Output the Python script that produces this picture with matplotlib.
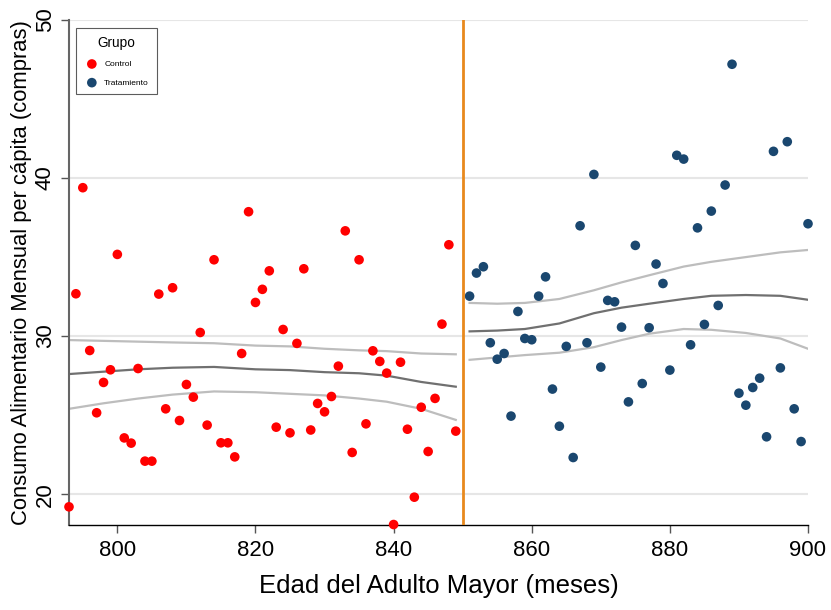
import matplotlib
matplotlib.use("Agg")
import matplotlib.pyplot as plt
import numpy as np

plt.rcParams['font.family'] = ['Liberation Sans', 'DejaVu Sans']

# Control group (age in months, consumption)
ctrl_x = list(range(793, 850))
ctrl_y = [19.2, 32.68, 39.39, 29.09, 25.15, 27.07, 27.87, 35.17, 23.56, 23.23,
          27.95, 22.09, 22.09, 32.66, 25.4, 33.06, 24.66, 26.94, 26.14, 30.23,
          24.37, 34.83, 23.25, 23.25, 22.36, 28.9, 37.87, 32.13, 32.96, 34.13,
          24.24, 30.42, 23.88, 29.54, 34.26, 24.06, 25.74, 25.21, 26.18, 28.1,
          36.66, 22.64, 34.83, 24.45, 29.07, 28.4, 27.66, 18.08, 28.35, 24.11,
          19.81, 25.5, 22.7, 26.06, 30.76, 35.78, 23.99]

# Treatment group
trt_x = list(range(851, 901))
trt_y = [32.53, 33.99, 34.39, 29.58, 28.54, 28.9, 24.94, 31.56, 29.85, 29.77,
         32.53, 33.75, 26.65, 24.3, 29.35, 22.32, 36.98, 29.58, 40.23, 28.04,
         32.26, 32.17, 30.57, 25.84, 35.74, 27.0, 30.53, 34.56, 33.33, 27.85,
         41.44, 41.2, 29.45, 36.85, 30.74, 37.91, 31.94, 39.56, 47.2, 26.39,
         25.63, 26.75, 27.34, 23.63, 41.69, 27.99, 42.3, 25.4, 23.33, 37.11]

# Smoothed fits with confidence bands
fit_c_x = [793, 798, 803, 808, 814, 820, 825, 830, 835, 839, 844, 849]
fit_c_mid = [27.6, 27.75, 27.9, 28.0, 28.05, 27.9, 27.85, 27.72, 27.65, 27.5, 27.1, 26.8]
fit_c_up = [29.75, 29.7, 29.65, 29.6, 29.55, 29.4, 29.35, 29.2, 29.1, 29.05, 28.9, 28.85]
fit_c_lo = [25.4, 25.75, 26.05, 26.3, 26.5, 26.45, 26.35, 26.25, 26.05, 25.85, 25.4, 24.7]

fit_t_x = [851, 855, 859, 864, 869, 873, 877, 882, 886, 891, 896, 900]
fit_t_mid = [30.3, 30.35, 30.45, 30.8, 31.45, 31.8, 32.05, 32.35, 32.55, 32.6, 32.55, 32.3]
fit_t_up = [32.1, 32.05, 32.1, 32.35, 32.9, 33.4, 33.85, 34.4, 34.7, 35.0, 35.3, 35.45]
fit_t_lo = [28.5, 28.65, 28.8, 28.95, 29.3, 29.75, 30.15, 30.45, 30.4, 30.2, 29.85, 29.2]

cutoff = 850

fig = plt.figure(figsize=(8.31, 6.10), dpi=100)
ax = fig.add_axes([69/831, 1-525/610, (808-69)/831, (525-20)/610])

for yv in [20, 30, 40, 50]:
    ax.axhline(yv, color='#e6e6e6', lw=1.5, zorder=0)

ax.plot(fit_c_x, fit_c_up, color='#bdbdbd', lw=1.6, zorder=2)
ax.plot(fit_c_x, fit_c_lo, color='#bdbdbd', lw=1.6, zorder=2)
ax.plot(fit_c_x, fit_c_mid, color='#707070', lw=1.6, zorder=2)
ax.plot(fit_t_x, fit_t_up, color='#bdbdbd', lw=1.6, zorder=2)
ax.plot(fit_t_x, fit_t_lo, color='#bdbdbd', lw=1.6, zorder=2)
ax.plot(fit_t_x, fit_t_mid, color='#707070', lw=1.6, zorder=2)

ax.scatter(ctrl_x, ctrl_y, s=48, color='#ff0000', edgecolors='none', zorder=3, label='Control', clip_on=False)
ax.scatter(trt_x, trt_y, s=48, color='#1a476f', edgecolors='none', zorder=3, label='Tratamiento', clip_on=False)

ax.axvline(cutoff, color='#e8891d', lw=2, zorder=4)

ax.set_xlim(793, 900)
ax.set_ylim(18.05, 50)
ax.set_xticks([800, 820, 840, 860, 880, 900])
ax.set_yticks([20, 30, 40, 50])
ax.tick_params(axis='both', direction='out', length=6, width=1, color='#555555', labelsize=16)
ax.tick_params(axis='x', pad=5)
for lbl in ax.get_yticklabels():
    lbl.set_rotation(90)
    lbl.set_va('center')
ax.spines['top'].set_visible(False)
ax.spines['right'].set_visible(False)
ax.spines['left'].set_color('#666666')
ax.spines['left'].set_linewidth(1.5)
ax.spines['bottom'].set_color('#000000')
ax.spines['bottom'].set_linewidth(1)

ax.set_xlabel('Edad del Adulto Mayor (meses)', fontsize=18.5, labelpad=9)
ax.set_ylabel('Consumo Alimentario Mensual per cápita (compras)', fontsize=15.8, labelpad=2)

leg = ax.legend(loc='upper left', bbox_to_anchor=(7/739, 1-8/505), title='Grupo',
                fontsize=6, title_fontsize=9.8, frameon=True, fancybox=False,
                edgecolor='#333333', borderpad=0.9, labelspacing=1.3,
                handletextpad=0.5, markerscale=1.0, borderaxespad=0)
leg.get_frame().set_linewidth(0.8)

fig.savefig('out.png', dpi=100, facecolor='white')
